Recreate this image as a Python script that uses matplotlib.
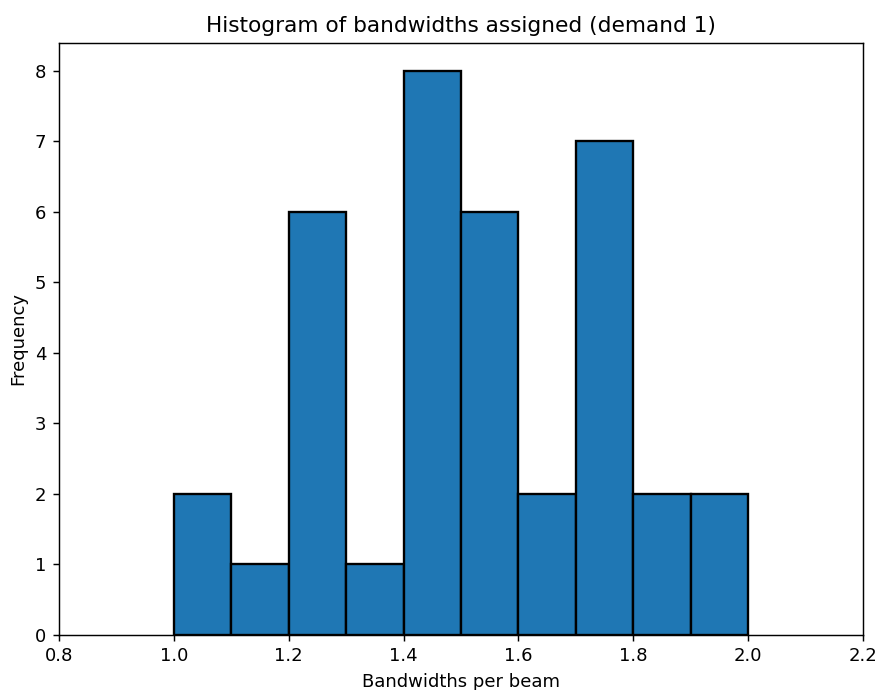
import numpy as np
import matplotlib
matplotlib.use("Agg")
import matplotlib.pyplot as plt

# bin edges and counts of bandwidths per beam
bin_edges = [1.0, 1.1, 1.2, 1.3, 1.4, 1.5, 1.6, 1.7, 1.8, 1.9, 2.0]
counts = [2, 1, 6, 1, 8, 6, 2, 7, 2, 2]
x_ticks = [0.8, 1.0, 1.2, 1.4, 1.6, 1.8, 2.0, 2.2]

dpi = 130
fig = plt.figure(figsize=(879 / dpi, 690 / dpi), dpi=dpi)
ax = fig.add_axes([0.067, 0.080, 0.915, 0.858])

widths = np.diff(bin_edges)
ax.bar(bin_edges[:-1], counts, width=widths, align='edge',
       color='#1f77b4', edgecolor='black', linewidth=1.3)

ax.set_xlim(0.8, 2.2)
ax.set_xticks(x_ticks)
ax.set_xticklabels([f"{t:.1f}" for t in x_ticks])
ax.set_title('Histogram of bandwidths assigned (demand 1)')
ax.set_xlabel('Bandwidths per beam')
ax.set_ylabel('Frequency')

plt.savefig('out.png', dpi=dpi)
